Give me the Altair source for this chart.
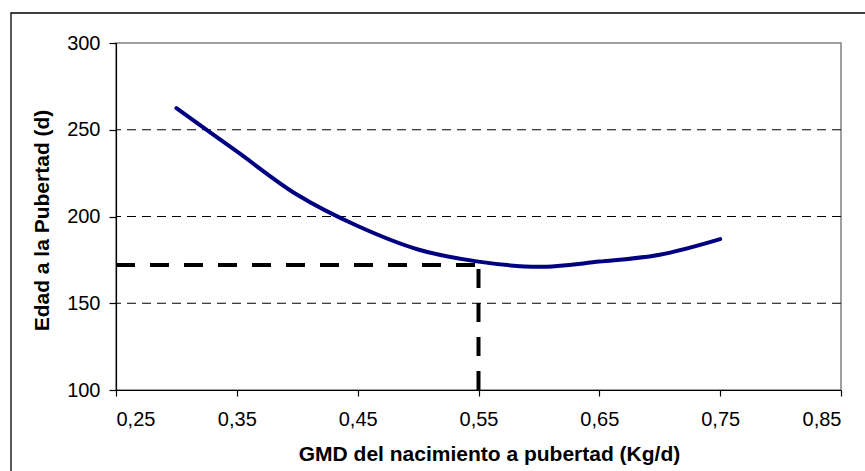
import altair as alt
import pandas as pd

# Growth rate from birth to puberty (kg/d) and age at puberty (d)
gmd = [0.30, 0.35, 0.40, 0.45, 0.50, 0.55, 0.60, 0.65, 0.70, 0.75]
edad = [262.5, 237.5, 212.5, 194.5, 181.0, 174.0, 171.0, 174.0, 178.0, 187.0]

# Marked optimum used for the dashed guide lines
opt_gmd = 0.55
opt_edad = 172.0

grid_values = [150, 200, 250]
x_ticks = [0.25, 0.35, 0.45, 0.55, 0.65, 0.75, 0.85]
y_ticks = [100, 150, 200, 250, 300]

FONT = "Liberation Sans"

curve = pd.DataFrame({"gmd": gmd, "edad": edad})
grid = pd.DataFrame({"v": grid_values})
hguide = pd.DataFrame({"x": [0.25], "x2": [opt_gmd], "y": [opt_edad]})
vguide = pd.DataFrame({"x": [opt_gmd], "y": [100.0], "y2": [opt_edad]})

x_scale = alt.Scale(domain=[0.25, 0.85], nice=False, zero=False)
y_scale = alt.Scale(domain=[100, 300], nice=False, zero=False)

x_axis = alt.Axis(
    values=x_ticks,
    labelExpr="replace(format(datum.value, '.2f'), '.', ',')",
    title="GMD del nacimiento a pubertad (Kg/d)",
    grid=False,
    tickSize=6,
    labelPadding=13,
    titlePadding=14,
    titleX=373,
)
y_axis = alt.Axis(
    values=y_ticks,
    title="Edad a la Pubertad (d)",
    grid=False,
    tickSize=7,
    labelPadding=9,
    titlePadding=14,
    titleY=177,
)

frame = alt.Chart(pd.DataFrame({"k": [0]})).mark_rect(
    fill=None, stroke="black", strokeWidth=1.3
).encode(
    x=alt.value(-105), x2=alt.value(760), y=alt.value(-30), y2=alt.value(440)
)

gridlines = alt.Chart(grid).mark_rule(
    color="black", strokeWidth=1, strokeDash=[9, 6]
).encode(y=alt.Y("v:Q", scale=y_scale, axis=y_axis))

h_line = alt.Chart(hguide).mark_rule(
    color="black", strokeWidth=4, strokeDash=[19, 15]
).encode(
    x=alt.X("x:Q", scale=x_scale, axis=x_axis),
    x2="x2:Q",
    y=alt.Y("y:Q", scale=y_scale),
)

v_line = alt.Chart(vguide).mark_rule(
    color="black", strokeWidth=4, strokeDash=[19, 15]
).encode(
    x=alt.X("x:Q", scale=x_scale),
    y=alt.Y("y:Q", scale=y_scale),
    y2="y2:Q",
)

line = alt.Chart(curve).mark_line(
    color="#000080", strokeWidth=4, strokeCap="round", strokeJoin="round",
    interpolate="catmull-rom",
).encode(
    x=alt.X("gmd:Q", scale=x_scale, axis=x_axis),
    y=alt.Y("edad:Q", scale=y_scale, axis=y_axis),
)

chart = alt.layer(frame, gridlines, h_line, v_line, line).properties(
    width=725,
    height=347,
    autosize=alt.AutoSizeParams(type="none"),
    padding={"left": 116, "top": 43, "right": 24, "bottom": 81},
    background="white",
).configure_view(
    stroke="#808080", strokeWidth=1.5
).configure_axis(
    domainColor="black",
    domainWidth=1.2,
    tickColor="black",
    tickWidth=1.2,
    labelFont=FONT,
    labelFontSize=20,
    labelColor="black",
    titleFont=FONT,
    titleFontSize=21,
    titleFontWeight="bold",
    titleColor="black",
)

chart.save("out.html", embed_options={"renderer": "svg", "actions": False})
